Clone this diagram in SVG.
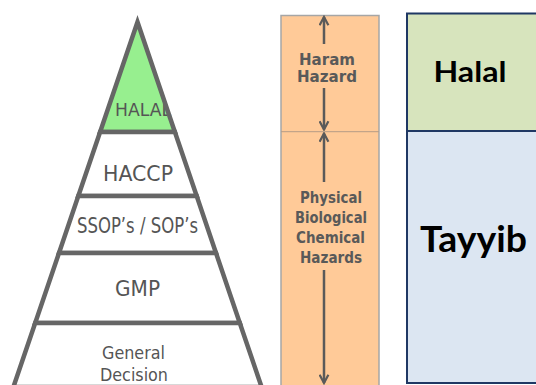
<svg xmlns="http://www.w3.org/2000/svg" width="536" height="385" viewBox="0 0 536 385">
<defs>
<style>
.band{fill:#fff;stroke:none}
.edge{fill:none;stroke:#666;stroke-width:4.5;stroke-linejoin:miter}
.pt{font-family:"DejaVu Sans",Verdana,sans-serif;fill:#555;text-anchor:middle}
.mt{font-family:"DejaVu Sans",Verdana,sans-serif;font-weight:bold;font-size:15px;fill:#595959;text-anchor:middle}
.big{font-family:Lato,"DejaVu Sans",sans-serif;font-weight:bold;fill:#000;text-anchor:middle}
.arr{stroke:#5a5a5a;stroke-width:2.5;fill:none}
</style>
<marker id="ah" viewBox="0 0 10 10" refX="8.5" refY="5" markerWidth="4.4" markerHeight="4.4" orient="auto-start-reverse" markerUnits="strokeWidth">
<path d="M1,1 L8.5,5 L1,9" fill="none" stroke="#5a5a5a" stroke-width="2"/>
</marker>
</defs>
<rect width="536" height="385" fill="#fff"/>

<g id="halal-tier">
<polygon points="137.5,22 174.9,132 100.1,132" fill="#97ef8f"/>
<text class="pt" x="115" y="115.5" font-size="17" style="text-anchor:start" textLength="56" lengthAdjust="spacingAndGlyphs">HALAL</text>
<polygon class="edge" points="137.5,22 174.9,132 100.1,132"/>
</g>
<g id="haccp-tier">
<polygon class="band" points="100.1,132 174.9,132 196.7,196 78.3,196"/>
<text class="pt" x="138" y="180.5" font-size="21" textLength="70" lengthAdjust="spacingAndGlyphs">HACCP</text>
<polygon class="edge" points="100.1,132 174.9,132 196.7,196 78.3,196"/>
</g>
<g id="ssop-tier">
<polygon class="band" points="78.3,196 196.7,196 216,253 59,253"/>
<text class="pt" x="137.5" y="232.5" font-size="20.5" textLength="121" lengthAdjust="spacingAndGlyphs">SSOP’s / SOP’s</text>
<polygon class="edge" points="78.3,196 196.7,196 216,253 59,253"/>
</g>
<g id="gmp-tier">
<polygon class="band" points="59,253 216,253 239.8,323 35.2,323"/>
<text class="pt" x="137.5" y="295.5" font-size="21" textLength="45" lengthAdjust="spacingAndGlyphs">GMP</text>
<polygon class="edge" points="59,253 216,253 239.8,323 35.2,323"/>
</g>
<g id="general-tier">
<polygon class="band" points="35.2,323 239.8,323 261.6,387 13.4,387"/>
<text class="pt" x="133.5" y="358.5" font-size="18" textLength="63" lengthAdjust="spacingAndGlyphs">General</text>
<text class="pt" x="134" y="380.5" font-size="18" textLength="68" lengthAdjust="spacingAndGlyphs">Decision</text>
<polygon class="edge" points="35.2,323 239.8,323 261.6,387 13.4,387"/>
</g>

<g id="hazard-column">
<rect x="281" y="15.5" width="98" height="380" fill="#ffca98" stroke="#a6a6a6" stroke-width="1.5"/>
<line x1="281" y1="131.7" x2="379" y2="131.7" stroke="#b59c86" stroke-width="1"/>
<text class="mt" x="327" y="65" textLength="56" lengthAdjust="spacingAndGlyphs">Haram</text>
<text class="mt" x="327" y="81.5" textLength="60" lengthAdjust="spacingAndGlyphs">Hazard</text>
<text class="mt" x="331" y="203" textLength="62" lengthAdjust="spacingAndGlyphs">Physical</text>
<text class="mt" x="331" y="223" textLength="72" lengthAdjust="spacingAndGlyphs">Biological</text>
<text class="mt" x="330.5" y="243" textLength="69" lengthAdjust="spacingAndGlyphs">Chemical</text>
<text class="mt" x="331" y="263" textLength="62" lengthAdjust="spacingAndGlyphs">Hazards</text>
</g>

<g id="connectors">
<line class="arr" x1="324" y1="44" x2="324" y2="17" marker-end="url(#ah)"/>
<line class="arr" x1="324" y1="88" x2="324" y2="129.5" marker-end="url(#ah)"/>
<line class="arr" x1="324" y1="182" x2="324" y2="133.5" marker-end="url(#ah)"/>
<line class="arr" x1="324" y1="270" x2="324" y2="383" marker-end="url(#ah)"/>
</g>

<g id="halal-box">
<rect x="407" y="13.5" width="140" height="117.5" fill="#d7e4bd" stroke="#1f3864" stroke-width="2"/>
<text class="big" x="470" y="82" font-size="29" textLength="73" lengthAdjust="spacingAndGlyphs">Halal</text>
</g>
<g id="tayyib-box">
<rect x="407" y="131" width="140" height="252" fill="#dce6f2" stroke="#1f3864" stroke-width="2"/>
<text class="big" x="473.5" y="252" font-size="36" textLength="107" lengthAdjust="spacingAndGlyphs">Tayyib</text>
</g>
</svg>
